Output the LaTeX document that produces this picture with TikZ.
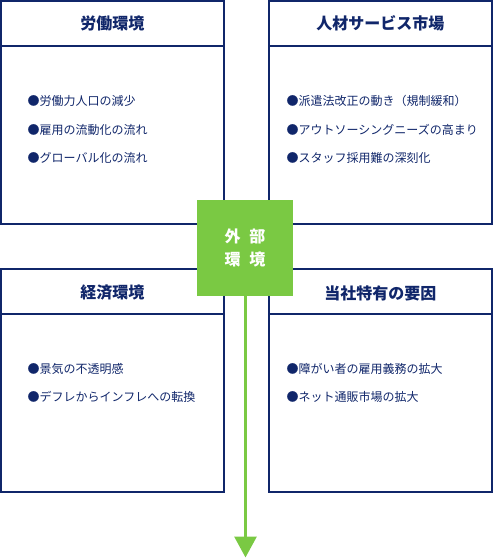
\documentclass[tikz,border=0pt]{standalone}
\usepackage{fontspec}
\setmainfont{Noto Sans CJK JP}
\usetikzlibrary{arrows.meta}
\definecolor{navy}{HTML}{10266A}
\definecolor{leaf}{HTML}{7AC943}
\tikzset{
  panel/.style={draw=navy, line width=1.4pt, minimum width=223pt, minimum height=223pt, inner sep=0pt},
  head/.style={text=navy, font=\fontsize{16}{18}\selectfont\bfseries, inner sep=0pt},
  item/.style={text=navy, font=\fontsize{12}{14}\selectfont, anchor=west, inner sep=0pt},
  hub/.style={fill=leaf, minimum width=96pt, minimum height=96pt, inner sep=0pt, text=white, align=center,
    font=\fontsize{16}{23}\selectfont\bfseries},
  sep/.style={draw=navy, line width=1.4pt},
  flow/.style={draw=leaf, line width=3pt, -{Triangle[width=22pt,length=21pt]}}
}
\begin{document}
\begin{tikzpicture}[x=1pt,y=-1pt]
\useasboundingbox (0,0) rectangle (493,558);
% panels
\node[panel] (p1) at (112.4,112.4) {};
\node[panel] (p2) at (380.3,112.4) {};
\node[panel] (p3) at (112.4,380.3) {};
\node[panel] (p4) at (380.3,380.3) {};
% header separators
\draw[sep] (p1.west |- 0,46) -- (p1.east |- 0,46);
\draw[sep] (p2.west |- 0,46) -- (p2.east |- 0,46);
\draw[sep] (p3.west |- 0,314) -- (p3.east |- 0,314);
\draw[sep] (p4.west |- 0,314) -- (p4.east |- 0,314);
% headers
\node[head] (h1) at (112.4,23.5) {労働環境};
\node[head] (h2) at (380.3,23.5) {人材サービス市場};
\node[head] (h3) at (112.4,293) {経済環境};
\node[head] (h4) at (380.3,293) {当社特有の要因};
% items
\node[item] (a1) at (27.5,101) {●労働力人口の減少};
\node[item] (a2) at (27.5,130) {●雇用の流動化の流れ};
\node[item] (a3) at (27.5,158) {●グローバル化の流れ};
\node[item] (b1) at (286.5,101) {●派遣法改正の動き（規制緩和）};
\node[item] (b2) at (286.5,130) {●アウトソーシングニーズの高まり};
\node[item] (b3) at (286.5,158) {●スタッフ採用難の深刻化};
\node[item] (c1) at (27.5,369) {●景気の不透明感};
\node[item] (c2) at (27.5,397) {●デフレからインフレへの転換};
\node[item] (d1) at (286.5,369) {●障がい者の雇用義務の拡大};
\node[item] (d2) at (286.5,397) {●ネット通販市場の拡大};
% hub
\node[hub] (hub) at (245,248) {外\hspace{9pt}部\\環\hspace{9pt}境};
\coordinate (end) at (245.5,557.5);
\draw[flow] (hub.south -| end) -- (end);
\end{tikzpicture}
\end{document}
